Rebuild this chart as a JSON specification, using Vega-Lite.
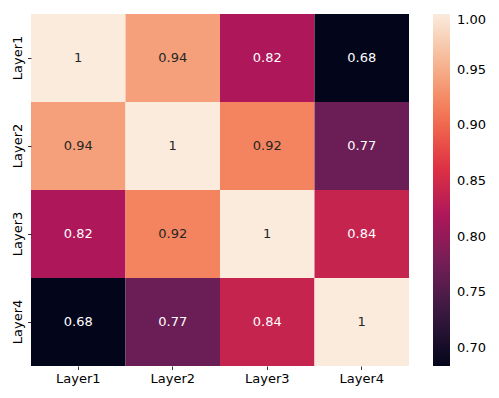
{
  "$schema": "https://vega.github.io/schema/vega-lite/v6.json",
  "autosize": "none",
  "width": 378,
  "height": 352,
  "padding": {"left": 31, "top": 14, "right": 90, "bottom": 32},
  "background": "white",
  "config": {
    "view": {"stroke": null},
    "font": "DejaVu Sans",
    "axis": {"labelFont": "DejaVu Sans", "labelFontSize": 13, "labelColor": "#000000", "tickColor": "#000000", "tickSize": 3.5, "tickWidth": 0.8, "labelPadding": 3, "domain": false, "grid": false, "title": null}
  },
  "data": {
    "values": [
      {"row": "Layer1", "col": "Layer1", "value": 1},
      {"row": "Layer1", "col": "Layer2", "value": 0.94},
      {"row": "Layer1", "col": "Layer3", "value": 0.82},
      {"row": "Layer1", "col": "Layer4", "value": 0.684},
      {"row": "Layer2", "col": "Layer1", "value": 0.94},
      {"row": "Layer2", "col": "Layer2", "value": 1},
      {"row": "Layer2", "col": "Layer3", "value": 0.92},
      {"row": "Layer2", "col": "Layer4", "value": 0.77},
      {"row": "Layer3", "col": "Layer1", "value": 0.82},
      {"row": "Layer3", "col": "Layer2", "value": 0.92},
      {"row": "Layer3", "col": "Layer3", "value": 1},
      {"row": "Layer3", "col": "Layer4", "value": 0.84},
      {"row": "Layer4", "col": "Layer1", "value": 0.684},
      {"row": "Layer4", "col": "Layer2", "value": 0.77},
      {"row": "Layer4", "col": "Layer3", "value": 0.84},
      {"row": "Layer4", "col": "Layer4", "value": 1}
    ]
  },
  "encoding": {
    "x": {"field": "col", "type": "nominal", "sort": ["Layer1", "Layer2", "Layer3", "Layer4"], "scale": {"paddingInner": 0, "paddingOuter": 0}, "axis": {"orient": "bottom", "labelAngle": 0}},
    "y": {"field": "row", "type": "nominal", "sort": ["Layer1", "Layer2", "Layer3", "Layer4"], "scale": {"paddingInner": 0, "paddingOuter": 0}, "axis": {"labelAngle": -90, "labelAlign": "center", "labelBaseline": "bottom", "labelPadding": 3}}
  },
  "layer": [
    {
      "mark": {"type": "rect"},
      "encoding": {
        "color": {
          "field": "value", "type": "quantitative",
          "scale": {"domain": [0.684, 1], "range": ["#03051a", "#35193e", "#701f57", "#ad1759", "#e13342", "#f37651", "#f6b48f", "#faebdd"], "interpolate": "rgb"},
          "legend": {
            "orient": "none", "legendX": 402, "legendY": 0, "direction": "vertical",
            "title": null, "gradientLength": 352, "gradientThickness": 17,
            "values": [0.7, 0.75, 0.8, 0.85, 0.9, 0.95, 1.0], "format": ".2f",
            "labelFont": "DejaVu Sans", "labelFontSize": 13, "labelColor": "#000000", "labelOffset": 7,
            "gradientStrokeWidth": 0
          }
        }
      }
    },
    {
      "mark": {"type": "text", "font": "DejaVu Sans", "fontSize": 13},
      "encoding": {
        "text": {"field": "value", "type": "quantitative", "format": ".2~g"},
        "color": {"condition": {"test": "datum.value >= 0.9", "value": "#262626"}, "value": "#ffffff"}
      }
    }
  ]
}
